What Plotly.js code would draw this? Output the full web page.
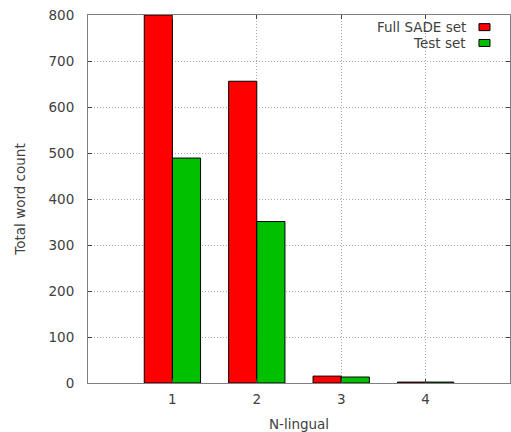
<!DOCTYPE html>
<html>
<head>
<meta charset="utf-8">
<script src="https://cdn.plot.ly/plotly-3.0.1.min.js"></script>
<style>html,body{margin:0;padding:0;background:#fff}#chart{width:511px;height:432px}</style>
</head>
<body>
<div id="chart"></div>
<script>
const categories = [1, 2, 3, 4];
const fullSade = [800, 656, 15, 2];
const testSet = [489, 351, 13, 2];
const seriesNames = ["Full SADE set", "Test set"];
const seriesColors = ["#ff0000", "#00c000"];
const yTicks = [0, 100, 200, 300, 400, 500, 600, 700, 800];

const font = {family: "DejaVu Sans, sans-serif", size: 13.5, color: "#404040"};

const traces = [fullSade, testSet].map((vals, i) => ({
  type: "bar",
  x: categories,
  y: vals,
  name: seriesNames[i],
  marker: {color: seriesColors[i], line: {color: "#000", width: 1}},
  hoverinfo: "none"
}));

const axisCommon = {
  showline: true, linecolor: "#808080", linewidth: 1, mirror: "ticks",
  ticks: "inside", ticklen: 4, tickcolor: "#404040",
  showgrid: true, gridcolor: "#a8a8a8", griddash: "1px,2px", gridwidth: 1,
  tickfont: font
};

const annotations = [];
const shapes = [];
seriesNames.forEach((n, i) => {
  const y = 0.967 - i * 0.043;
  annotations.push({xref: "paper", yref: "paper", x: 0.9, y: y, xanchor: "right", yanchor: "middle",
    text: n, showarrow: false, font: font});
  shapes.push({type: "rect", xref: "paper", yref: "paper", x0: 0.9265, x1: 0.9526, y0: y - 0.0095, y1: y + 0.0095,
    fillcolor: seriesColors[i], line: {color: "#000", width: 1}});
});

const layout = {
  width: 511, height: 432,
  margin: {l: 88, r: 1, t: 15, b: 49},
  paper_bgcolor: "#fff", plot_bgcolor: "#fff",
  showlegend: false,
  barmode: "group", bargap: 0.333, bargroupgap: 0,
  font: font,
  xaxis: Object.assign({}, axisCommon, {
    range: [0, 5], tickvals: categories, ticktext: categories.map(String),
    zeroline: false, ticklabelstandoff: 4,
    title: {text: "N-lingual", font: font, standoff: 13}
  }),
  yaxis: Object.assign({}, axisCommon, {
    range: [0, 800], tickvals: yTicks, ticktext: yTicks.map(String),
    zeroline: true, zerolinecolor: "#000", zerolinewidth: 1,
    ticklabelstandoff: 10,
    title: {text: "Total word count", font: font, standoff: 19}
  }),
  annotations: annotations,
  shapes: shapes
};

Plotly.newPlot("chart", traces, layout, {displayModeBar: false, staticPlot: true});
</script>
</body>
</html>
